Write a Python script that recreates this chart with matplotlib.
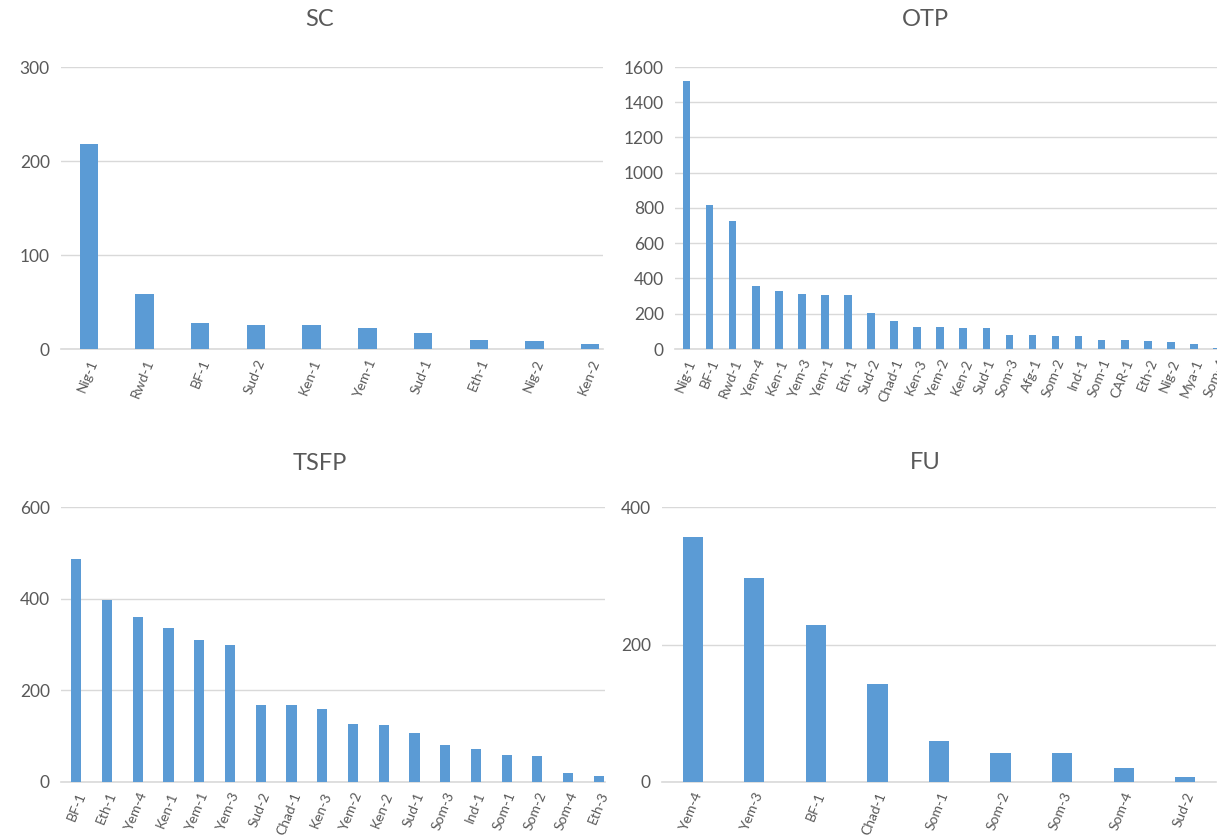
import numpy as np
import matplotlib.pyplot as plt

### Data ###
sc_labels = ['Nig-1', 'Rwd-1', 'BF-1', 'Sud-2', 'Ken-1', 'Yem-1', 'Sud-1', 'Eth-1', 'Nig-2', 'Ken-2']
sc_values = [218, 58, 28, 25, 25, 22, 17, 10, 8, 5]

otp_labels = ['Nig-1', 'BF-1', 'Rwd-1', 'Yem-4', 'Ken-1', 'Yem-3', 'Yem-1', 'Eth-1', 'Sud-2', 'Chad-1',
              'Ken-3', 'Yem-2', 'Ken-2', 'Sud-1', 'Som-3', 'Afg-1', 'Som-2', 'Ind-1', 'Som-1', 'CAR-1',
              'Eth-2', 'Nig-2', 'Mya-1', 'Som-4']
otp_values = [1523, 815, 725, 357, 328, 311, 306, 306, 204, 158,
              125, 125, 119, 119, 79, 79, 74, 74, 51, 51,
              45, 40, 28, 5]

tsfp_labels = ['BF-1', 'Eth-1', 'Yem-4', 'Ken-1', 'Yem-1', 'Yem-3', 'Sud-2', 'Chad-1', 'Ken-3',
               'Yem-2', 'Ken-2', 'Sud-1', 'Som-3', 'Ind-1', 'Som-1', 'Som-2', 'Som-4', 'Eth-3']
tsfp_values = [486, 397, 360, 335, 309, 298, 168, 168, 160,
               127, 125, 106, 80, 71, 58, 56, 19, 13]

fu_labels = ['Yem-4', 'Yem-3', 'BF-1', 'Chad-1', 'Som-1', 'Som-2', 'Som-3', 'Som-4', 'Sud-2']
fu_values = [357, 297, 228, 142, 59, 42, 42, 20, 7]

W, H = 1217, 838
BAR = '#5b9bd5'
GRID = '#d9d9d9'
TXT = '#595959'

plt.rcParams['font.family'] = ['Lato', 'DejaVu Sans']

fig = plt.figure(figsize=(W / 100, H / 100), dpi=100)


def panel(px, title, tx, ty, labels, values, ymax, ystep, xright):
    # px = (left, top, right, bottom) of the plot area in pixels
    l, t, r, b = px
    ax = fig.add_axes([l / W, 1 - b / H, (r - l) / W, (b - t) / H])
    x = np.arange(len(labels))
    ax.bar(x, values, width=0.33, color=BAR, zorder=3)
    ax.set_ylim(0, ymax)
    ax.set_xlim(-0.5, xright)
    ax.set_yticks(np.arange(0, ymax + 1, ystep))
    ax.grid(axis='y', color=GRID, linewidth=1, zorder=0)
    for s in ['top', 'right', 'left']:
        ax.spines[s].set_visible(False)
    ax.spines['bottom'].set_color(GRID)
    ax.spines['bottom'].set_linewidth(1.2)
    ax.tick_params(axis='y', length=0, labelsize=12.5, labelcolor=TXT, pad=8)
    ax.tick_params(axis='x', length=0, labelsize=10, labelcolor=TXT, pad=6)
    ax.set_xticks(x)
    ax.set_xticklabels(labels, rotation=68, ha='right', rotation_mode='anchor')
    fig.text(tx / W, 1 - ty / H, title, ha='center', va='center', fontsize=17, color=TXT)
    return ax


panel((61, 67, 603, 349), 'SC', 320, 20, sc_labels, sc_values, 300, 100, 9.23)
panel((675, 67, 1217, 349), 'OTP', 925, 20, otp_labels, otp_values, 1600, 200, 23.0)
panel((61, 507, 605, 782), 'TSFP', 320, 463, tsfp_labels, tsfp_values, 600, 200, 17.2)
panel((662, 507, 1216, 782), 'FU', 925, 462, fu_labels, fu_values, 400, 200, 8.5)

fig.savefig('out.png', dpi=100, facecolor='white')
